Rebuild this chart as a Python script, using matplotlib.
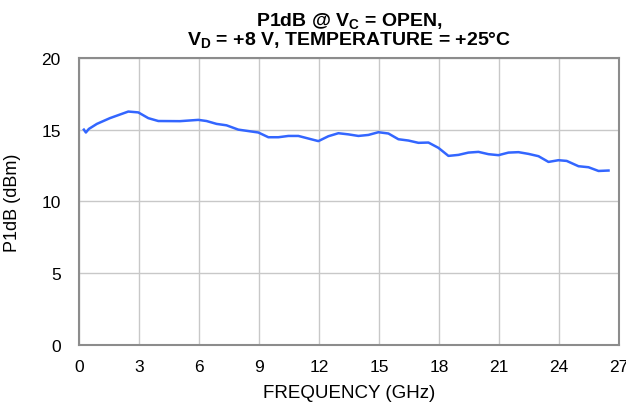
import matplotlib
matplotlib.use('Agg')
import matplotlib.pyplot as plt

plt.rcParams['font.family'] = ['Liberation Sans', 'DejaVu Sans']
plt.rcParams['mathtext.fontset'] = 'custom'
plt.rcParams['mathtext.rm'] = 'Liberation Sans:bold'

# P1dB vs frequency
freq_ghz = [0.25, 0.35, 0.5, 0.9, 1.55, 2.47, 2.97, 3.47, 3.97, 5.05, 5.97, 6.38,
            6.88, 7.38, 7.97, 8.97, 9.47, 9.97, 10.47, 10.97, 11.47, 11.97, 12.47,
            12.97, 13.47, 13.97, 14.47, 14.97, 15.47, 15.97, 16.47, 16.97, 17.47,
            17.97, 18.47, 18.97, 19.47, 19.97, 20.47, 20.97, 21.47, 21.97, 22.47,
            22.97, 23.47, 23.97, 24.38, 24.97, 25.47, 25.97, 26.47]
p1db_dbm = [15.0, 14.8, 15.05, 15.4, 15.8, 16.26, 16.2, 15.8, 15.6, 15.59, 15.68, 15.6,
            15.4, 15.3, 15.0, 14.8, 14.47, 14.47, 14.56, 14.56, 14.38, 14.2, 14.54,
            14.75, 14.67, 14.56, 14.63, 14.82, 14.73, 14.33, 14.24, 14.08, 14.1,
            13.73, 13.17, 13.24, 13.4, 13.45, 13.29, 13.22, 13.4, 13.43, 13.31,
            13.15, 12.75, 12.87, 12.82, 12.45, 12.38, 12.12, 12.15]

x_ticks = list(range(0, 28, 3))
y_ticks = [0, 5, 10, 15, 20]

fig = plt.figure(figsize=(6.26, 4.06), dpi=100)
ax = fig.add_axes([0.126, 0.148, 0.863, 0.707])

ax.plot(freq_ghz, p1db_dbm, color='#3366ff', linewidth=1.8)

ax.set_xlim(0, 27)
ax.set_ylim(0, 20)
ax.set_xticks(x_ticks)
ax.set_yticks(y_ticks)
ax.grid(True, color='#c8c8c8', linewidth=1.0)
ax.set_axisbelow(True)
for side in ['top', 'right', 'bottom', 'left']:
    ax.spines[side].set_color('#8c8c8c')
    ax.spines[side].set_linewidth(1.5)
ax.tick_params(length=0, labelsize=12.5)
ax.tick_params(axis='x', pad=10)
ax.tick_params(axis='y', pad=13)

ax.set_xlabel('FREQUENCY (GHz)', fontsize=13.5, labelpad=7)
ax.set_ylabel('P1dB (dBm)', fontsize=13)
ax.yaxis.set_label_coords(-0.108, 0.5)
ax.set_title('P1dB @ V$\\mathrm{_C}$ = OPEN,\nV$\\mathrm{_D}$ = +8 V, TEMPERATURE = +25°C',
             fontsize=14, fontweight='bold', pad=10, linespacing=0.95)

fig.savefig('out.png', dpi=100)
plt.close()
